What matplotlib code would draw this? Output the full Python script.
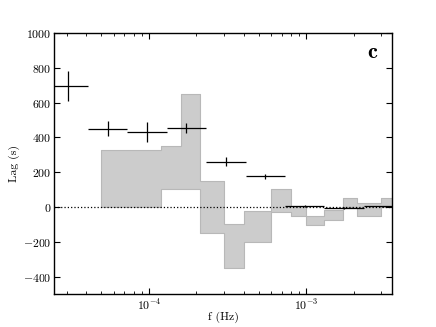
import matplotlib
matplotlib.use("Agg")
import matplotlib.pyplot as plt
import numpy as np

# lag-frequency spectrum, cross = measured lag, grey band = model range
f_edges = [2.31e-5, 4.11e-5, 7.31e-5, 1.30e-4, 2.31e-4, 4.11e-4, 7.31e-4, 1.30e-3, 2.31e-3, 4.11e-3]
lag = [695, 450, 431, 452, 260, 176, 7, -5, 3]
lag_err = [88, 43, 55, 28, 26, 15, 5, 4, 4]

band_edges = [5.0e-5, 1.2e-4, 1.6e-4, 2.1e-4, 3.0e-4, 4.0e-4, 6.0e-4, 8.0e-4,
              1.0e-3, 1.3e-3, 1.7e-3, 2.1e-3, 3.0e-3, 4.0e-3]
band_hi = [326, 352, 651, 150, -100, -23, 101, 5, -52, -20, 50, 21, 50]
band_lo = [0, 102, 102, -150, -350, -199, -27, -52, -101, -72, 2, -52, 2]

plt.rcParams['font.family'] = 'cmr10'
plt.rcParams['mathtext.fontset'] = 'cm'
plt.rcParams['axes.formatter.use_mathtext'] = True
plt.rcParams['font.size'] = 8.5

fig = plt.figure(figsize=(4.36, 3.27), dpi=100)
ax = fig.add_axes([0.124, 0.101, 0.775, 0.798])

# grey band
hi = band_hi + [band_hi[-1]]
lo = band_lo + [band_lo[-1]]
ax.fill_between(band_edges, lo, hi, step='post', facecolor='0.8',
                edgecolor='0.72', lw=0.8, zorder=1)

ax.axhline(0, color='k', ls=':', lw=0.9, zorder=2)

# crosses
edges = np.array(f_edges)
fc = np.sqrt(edges[:-1] * edges[1:])
xerr = [fc - edges[:-1], edges[1:] - fc]
ax.errorbar(fc, lag, yerr=lag_err, xerr=xerr, fmt='none', ecolor='k',
            elinewidth=0.9, capsize=0, zorder=3)

ax.set_xscale('log')
ax.set_xlim(2.5e-5, 3.5e-3)
ax.set_ylim(-500, 1000)
ax.set_yticks(np.arange(-400, 1001, 200))
ax.tick_params(which='both', direction='in', top=True, right=True)
ax.tick_params(which='major', length=4, width=0.8)
ax.tick_params(which='minor', length=2, width=0.6)
ax.tick_params(axis='x', which='major', pad=3)
ax.tick_params(axis='y', which='major', pad=2)

for s in ax.spines.values():
    s.set_linewidth(1.0)

ax.set_xlabel('f (Hz)', labelpad=-1)
ax.set_ylabel('Lag (s)', labelpad=2)

ax.text(0.955, 0.903, 'c', transform=ax.transAxes, fontfamily='cmb10',
        fontsize=16, ha='right', va='baseline')

fig.savefig('out.png', dpi=100)
